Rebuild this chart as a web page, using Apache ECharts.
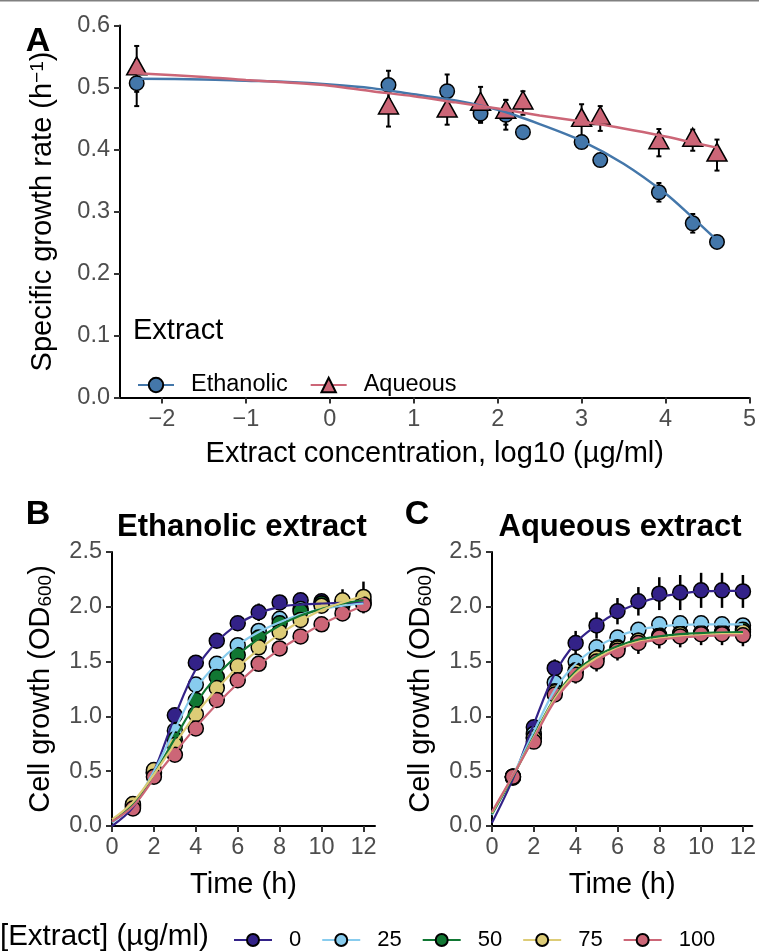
<!DOCTYPE html>
<html><head><meta charset="utf-8">
<script src="https://cdn.jsdelivr.net/npm/echarts@6/dist/echarts.min.js"></script>
<style>html,body{margin:0;padding:0;background:#fff}#c{width:759px;height:951px}</style>
</head><body><div id="c"></div>
<script>
// ---------- Panel A data ----------
const concLog = [-2.301, 0.699, 1.398, 1.796, 2.097, 2.301, 3.0, 3.222, 3.921, 4.324, 4.613];
const ethRate = [0.507, 0.504, 0.494, 0.458, 0.456, 0.428, 0.412, 0.383, 0.331, 0.281, 0.251];
const ethSd   = [0.037, 0.023, 0.027, 0.015, 0.024, 0.004, 0.006, 0.006, 0.015, 0.015, 0.004];
const aqRate  = [0.530, 0.467, 0.462, 0.473, 0.460, 0.475, 0.447, 0.450, 0.411, 0.415, 0.391];
const aqSd    = [0.037, 0.030, 0.022, 0.028, 0.020, 0.019, 0.026, 0.020, 0.022, 0.017, 0.025];
const fitX    = [-2.3, -1.5, -1, -0.5, 0, 0.5, 1, 1.5, 2, 2.5, 3, 3.5, 4, 4.3, 4.61];
const fitEth  = [0.514, 0.513, 0.511, 0.509, 0.505, 0.499, 0.489, 0.479, 0.464, 0.441, 0.414, 0.377, 0.329, 0.293, 0.254];
const fitAq   = [0.523, 0.517, 0.512, 0.508, 0.503, 0.494, 0.486, 0.476, 0.466, 0.455, 0.445, 0.434, 0.421, 0.412, 0.403];
const xTicksA = [-2, -1, 0, 1, 2, 3, 4, 5];

// ---------- Panels B / C data ----------
const concNames = ['0', '25', '50', '75', '100'];
const timeH   = [1, 2, 3, 4, 5, 6, 7, 8, 9, 10, 11, 12];
const fitT    = [0, 1, 2, 3, 4, 5, 6, 7, 8, 9, 10, 11, 12];
const xTicksBC = [0, 2, 4, 6, 8, 10, 12];

// Ethanolic extract (B)
const odB0   = [0.17, 0.49, 1.01, 1.49, 1.69, 1.85, 1.95, 2.04, 2.06, 2.05, 2.04, 2.04];
const odB25  = [0.19, 0.49, 0.87, 1.29, 1.48, 1.65, 1.78, 1.89, 1.98, 2.03, 2.02, 2.03];
const odB50  = [0.18, 0.48, 0.79, 1.15, 1.36, 1.56, 1.72, 1.85, 1.96, 2.03, 2.04, 2.06];
const odB75  = [0.20, 0.51, 0.74, 1.02, 1.26, 1.46, 1.63, 1.77, 1.88, 2.01, 2.06, 2.09];
const odB100 = [0.16, 0.45, 0.65, 0.89, 1.15, 1.33, 1.48, 1.62, 1.73, 1.84, 1.94, 2.02];
const sdB0   = [0.02, 0.03, 0.03, 0.03, 0.06, 0.05, 0.08, 0.05, 0.06, 0.05, 0.05, 0.05];
const sdB25  = [0.02, 0.02, 0.03, 0.03, 0.03, 0.03, 0.04, 0.04, 0.04, 0.04, 0.04, 0.04];
const sdB50  = [0.02, 0.02, 0.03, 0.03, 0.03, 0.03, 0.04, 0.04, 0.05, 0.05, 0.05, 0.05];
const sdB75  = [0.02, 0.02, 0.03, 0.03, 0.03, 0.03, 0.04, 0.04, 0.05, 0.06, 0.10, 0.14];
const sdB100 = [0.02, 0.02, 0.03, 0.03, 0.03, 0.03, 0.04, 0.04, 0.05, 0.05, 0.06, 0.08];
const fitB0   = [0.00, 0.17, 0.50, 1.00, 1.43, 1.68, 1.84, 1.94, 2.00, 2.02, 2.03, 2.035, 2.035];
const fitB25  = [0.03, 0.19, 0.50, 0.88, 1.25, 1.48, 1.65, 1.77, 1.86, 1.93, 1.98, 2.01, 2.03];
const fitB50  = [0.04, 0.20, 0.47, 0.80, 1.12, 1.37, 1.56, 1.71, 1.83, 1.92, 1.98, 2.03, 2.06];
const fitB75  = [0.06, 0.22, 0.47, 0.75, 1.02, 1.25, 1.45, 1.61, 1.75, 1.87, 1.97, 2.04, 2.10];
const fitB100 = [0.04, 0.18, 0.43, 0.67, 0.90, 1.11, 1.30, 1.47, 1.61, 1.73, 1.84, 1.93, 2.01];

// Aqueous extract (C)
const odC0   = [0.44, 0.90, 1.44, 1.67, 1.83, 1.96, 2.05, 2.12, 2.13, 2.15, 2.15, 2.14];
const odC25  = [0.45, 0.84, 1.31, 1.50, 1.63, 1.72, 1.79, 1.84, 1.85, 1.85, 1.84, 1.83];
const odC50  = [0.45, 0.81, 1.23, 1.42, 1.54, 1.63, 1.69, 1.74, 1.76, 1.76, 1.77, 1.79];
const odC75  = [0.45, 0.80, 1.22, 1.41, 1.53, 1.62, 1.69, 1.73, 1.75, 1.76, 1.76, 1.77];
const odC100 = [0.45, 0.77, 1.20, 1.38, 1.50, 1.60, 1.67, 1.72, 1.73, 1.75, 1.75, 1.74];
const sdC0   = [0.02, 0.04, 0.08, 0.11, 0.12, 0.12, 0.13, 0.15, 0.16, 0.16, 0.16, 0.15];
const sdC25  = [0.02, 0.03, 0.04, 0.04, 0.04, 0.04, 0.04, 0.05, 0.05, 0.05, 0.05, 0.05];
const sdC50  = [0.02, 0.03, 0.05, 0.06, 0.07, 0.07, 0.08, 0.08, 0.08, 0.08, 0.08, 0.08];
const sdC75  = [0.02, 0.03, 0.05, 0.06, 0.07, 0.07, 0.08, 0.08, 0.08, 0.08, 0.08, 0.08];
const sdC100 = [0.02, 0.04, 0.06, 0.08, 0.09, 0.09, 0.10, 0.10, 0.10, 0.10, 0.10, 0.10];
const fitC0   = [0.03, 0.43, 0.93, 1.39, 1.67, 1.83, 1.95, 2.03, 2.09, 2.12, 2.14, 2.145, 2.145];
const fitC25  = [0.10, 0.46, 0.86, 1.24, 1.48, 1.63, 1.73, 1.79, 1.82, 1.835, 1.84, 1.84, 1.84];
const fitC50  = [0.11, 0.45, 0.82, 1.17, 1.41, 1.55, 1.64, 1.70, 1.73, 1.75, 1.76, 1.765, 1.77];
const fitC75  = [0.12, 0.46, 0.81, 1.16, 1.39, 1.53, 1.62, 1.68, 1.71, 1.73, 1.74, 1.75, 1.75];
const fitC100 = [0.13, 0.46, 0.80, 1.14, 1.37, 1.51, 1.61, 1.67, 1.70, 1.72, 1.73, 1.74, 1.74];

// ---------- styling ----------
const FONT = '"Liberation Sans", Arial, Helvetica, sans-serif';
const TICK_FS = 23.5;
const colEth = '#4477AA', colAq = '#CC6677';
const concCols = ['#332288', '#88CCEE', '#117733', '#DDCC77', '#CC6677'];

const odB = [odB0, odB25, odB50, odB75, odB100];
const sdB = [sdB0, sdB25, sdB50, sdB75, sdB100];
const fitB = [fitB0, fitB25, fitB50, fitB75, fitB100];
const odC = [odC0, odC25, odC50, odC75, odC100];
const sdC = [sdC0, sdC25, sdC50, sdC75, sdC100];
const fitC = [fitC0, fitC25, fitC50, fitC75, fitC100];

function errRender(cap, lw) {
  return function (params, api) {
    const x = api.value(0), lo = api.value(1), hi = api.value(2);
    const p1 = api.coord([x, lo]), p2 = api.coord([x, hi]);
    const ch = [{ type: 'line', shape: { x1: p1[0], y1: p1[1], x2: p2[0], y2: p2[1] }, style: { stroke: '#000', lineWidth: lw } }];
    if (cap > 0) {
      ch.push({ type: 'line', shape: { x1: p1[0] - cap, y1: p1[1], x2: p1[0] + cap, y2: p1[1] }, style: { stroke: '#000', lineWidth: lw } });
      ch.push({ type: 'line', shape: { x1: p2[0] - cap, y1: p2[1], x2: p2[0] + cap, y2: p2[1] }, style: { stroke: '#000', lineWidth: lw } });
    }
    return { type: 'group', children: ch };
  };
}

function lab(extra) {
  return Object.assign({ color: '#4d4d4d', fontSize: TICK_FS, fontFamily: FONT, margin: 10 }, extra);
}
function tick(extra) {
  return Object.assign({ show: true, length: 6, lineStyle: { color: '#333', width: 2 } }, extra);
}
function axisBase(extra) {
  return Object.assign({
    type: 'value',
    axisLine: { show: true, onZero: false, lineStyle: { color: '#000', width: 2 } },
    axisTick: tick({}),
    axisLabel: lab({}),
    splitLine: { show: false },
    nameLocation: 'middle',
    nameTextStyle: { color: '#000', fontSize: 29, fontFamily: FONT }
  }, extra);
}
const fmt1 = v => v.toFixed(1);
const fmtMinus = v => (v < 0 ? '\u2212' + Math.abs(v) : String(v));

const series = [];
// ---- A: fits, errorbars, points
series.push({ type: 'line', name: 'Ethanolic', xAxisIndex: 0, yAxisIndex: 0, data: fitX.map((x, i) => [x, fitEth[i]]),
  smooth: 0.3, showSymbol: false, symbol: 'circle', lineStyle: { color: colEth, width: 2.5 },
  itemStyle: { color: colEth, borderColor: '#000', borderWidth: 1.5 } });
series.push({ type: 'line', name: 'Aqueous', xAxisIndex: 0, yAxisIndex: 0, data: fitX.map((x, i) => [x, fitAq[i]]),
  smooth: 0.3, showSymbol: false, symbol: 'triangle', lineStyle: { color: colAq, width: 2.5 },
  itemStyle: { color: colAq, borderColor: '#000', borderWidth: 1.5 } });
series.push({ type: 'custom', name: 'ethErr', xAxisIndex: 0, yAxisIndex: 0, renderItem: errRender(2.5, 2),
  encode: { x: 0, y: [1, 2] }, data: concLog.map((x, i) => [x, ethRate[i] - ethSd[i], ethRate[i] + ethSd[i]]) });
series.push({ type: 'custom', name: 'aqErr', xAxisIndex: 0, yAxisIndex: 0, renderItem: errRender(2.5, 2),
  encode: { x: 0, y: [1, 2] }, data: concLog.map((x, i) => [x, aqRate[i] - aqSd[i], aqRate[i] + aqSd[i]]) });
series.push({ type: 'scatter', name: 'ethPts', xAxisIndex: 0, yAxisIndex: 0, symbol: 'circle', symbolSize: 14.5,
  itemStyle: { color: colEth, borderColor: '#000', borderWidth: 1.5, opacity: 1 },
  data: concLog.map((x, i) => [x, ethRate[i]]) });
series.push({ type: 'scatter', name: 'aqPts', xAxisIndex: 0, yAxisIndex: 0, symbol: 'triangle', symbolSize: [20, 18],
  symbolOffset: [0, -3], itemStyle: { color: colAq, borderColor: '#000', borderWidth: 1.5, opacity: 1 },
  data: concLog.map((x, i) => [x, aqRate[i]]) });

// ---- B & C
[[odB, sdB, fitB, 1], [odC, sdC, fitC, 2]].forEach(([od, sd, fit, gi]) => {
  concNames.forEach((nm, k) => {
    series.push({ type: 'line', name: nm, xAxisIndex: gi, yAxisIndex: gi, data: fitT.map((t, i) => [t, fit[k][i]]),
      smooth: 0.35, showSymbol: false, symbol: 'circle', lineStyle: { color: concCols[k], width: 2.2 },
      itemStyle: { color: concCols[k], borderColor: '#000', borderWidth: 1.5 } });
  });
  concNames.forEach((nm, k) => {
    series.push({ type: 'custom', name: 'err' + gi + nm, xAxisIndex: gi, yAxisIndex: gi, renderItem: errRender(0, 2.5),
      encode: { x: 0, y: [1, 2] }, data: timeH.map((t, i) => [t, od[k][i] - sd[k][i], od[k][i] + sd[k][i]]) });
  });
  concNames.forEach((nm, k) => {
    series.push({ type: 'scatter', name: 'pts' + gi + nm, xAxisIndex: gi, yAxisIndex: gi, symbol: 'circle', symbolSize: 15,
      itemStyle: { color: concCols[k], borderColor: '#000', borderWidth: 1.5, opacity: 1 },
      data: timeH.map((t, i) => [t, od[k][i]]) });
  });
});

const option = {
  animation: false,
  backgroundColor: '#fff',
  grid: [
    { left: 120, right: 6, top: 25.5, height: 372, containLabel: false },
    { left: 112, top: 552, width: 263, height: 274, containLabel: false },
    { left: 492, top: 552, width: 261, height: 274, containLabel: false }
  ],
  xAxis: [
    axisBase({ gridIndex: 0, min: -2.5, max: 5, name: 'Extract concentration, log10 (\u00b5g/ml)', nameGap: 42,
      axisLabel: lab({ customValues: xTicksA, formatter: fmtMinus }), axisTick: tick({ customValues: xTicksA }) }),
    axisBase({ gridIndex: 1, min: 0, max: 12.55, name: 'Time (h)', nameGap: 44,
      axisLabel: lab({ customValues: xTicksBC }), axisTick: tick({ customValues: xTicksBC }) }),
    axisBase({ gridIndex: 2, min: 0, max: 12.45, name: 'Time (h)', nameGap: 44,
      axisLabel: lab({ customValues: xTicksBC }), axisTick: tick({ customValues: xTicksBC }) })
  ],
  yAxis: [
    axisBase({ gridIndex: 0, min: 0, max: 0.6, interval: 0.1, name: 'Specific growth rate (h{sup|\u22121})', nameGap: 63,
      axisLabel: lab({ formatter: fmt1 }),
      nameTextStyle: { color: '#000', fontSize: 29, fontFamily: FONT, rich: { sup: { fontSize: 19, fontFamily: FONT, color: '#000', verticalAlign: 'top', lineHeight: 20 } } } }),
    axisBase({ gridIndex: 1, min: 0, max: 2.5, interval: 0.5, name: 'Cell growth (OD{sub|600})', nameGap: 57,
      axisLabel: lab({ formatter: fmt1 }),
      nameTextStyle: { color: '#000', fontSize: 29, fontFamily: FONT, rich: { sub: { fontSize: 19, fontFamily: FONT, color: '#000', verticalAlign: 'bottom', lineHeight: 20 } } } }),
    axisBase({ gridIndex: 2, min: 0, max: 2.5, interval: 0.5, name: 'Cell growth (OD{sub|600})', nameGap: 57,
      axisLabel: lab({ formatter: fmt1 }),
      nameTextStyle: { color: '#000', fontSize: 29, fontFamily: FONT, rich: { sub: { fontSize: 19, fontFamily: FONT, color: '#000', verticalAlign: 'bottom', lineHeight: 20 } } } })
  ],
  legend: [
    { data: ['Ethanolic', 'Aqueous'], left: 137, top: 373, orient: 'horizontal', itemWidth: 36, itemHeight: 18, itemGap: 22,
      selectedMode: false, padding: 0, textStyle: { color: '#000', fontSize: 23.5, fontFamily: FONT, padding: [0, 0, 0, 12] } },
    { data: concNames, left: 233, top: 929, orient: 'horizontal', itemWidth: 38, itemHeight: 15, itemGap: 20,
      selectedMode: false, padding: 0, textStyle: { color: '#000', fontSize: 22, fontFamily: FONT, padding: [0, 0, 0, 12] } }
  ],
  graphic: [
    { type: 'line', shape: { x1: 0, y1: 0.75, x2: 759, y2: 0.75 }, style: { stroke: '#808080', lineWidth: 1.5 } },
    { type: 'text', x: 38, y: 42, style: { text: 'A', fontSize: 34, fontWeight: 'bold', fontFamily: FONT, fill: '#000', align: 'center', verticalAlign: 'middle' } },
    { type: 'text', x: 38, y: 515, style: { text: 'B', fontSize: 34, fontWeight: 'bold', fontFamily: FONT, fill: '#000', align: 'center', verticalAlign: 'middle' } },
    { type: 'text', x: 417, y: 515, style: { text: 'C', fontSize: 34, fontWeight: 'bold', fontFamily: FONT, fill: '#000', align: 'center', verticalAlign: 'middle' } },
    { type: 'text', x: 242, y: 527, style: { text: 'Ethanolic extract', fontSize: 31, fontWeight: 'bold', fontFamily: FONT, fill: '#000', align: 'center', verticalAlign: 'middle' } },
    { type: 'text', x: 620, y: 527, style: { text: 'Aqueous extract', fontSize: 31, fontWeight: 'bold', fontFamily: FONT, fill: '#000', align: 'center', verticalAlign: 'middle' } },
    { type: 'text', x: 133, y: 331, style: { text: 'Extract', fontSize: 29, fontFamily: FONT, fill: '#000', align: 'left', verticalAlign: 'middle' } },
    { type: 'text', x: 0, y: 937, style: { text: '[Extract] (\u00b5g/ml)', fontSize: 29.5, fontFamily: FONT, fill: '#000', align: 'left', verticalAlign: 'middle' } }
  ],
  series: series
};

const chart = echarts.init(document.getElementById('c'), null, { renderer: 'canvas', width: 759, height: 951 });
chart.setOption(option);
</script>
</body></html>
